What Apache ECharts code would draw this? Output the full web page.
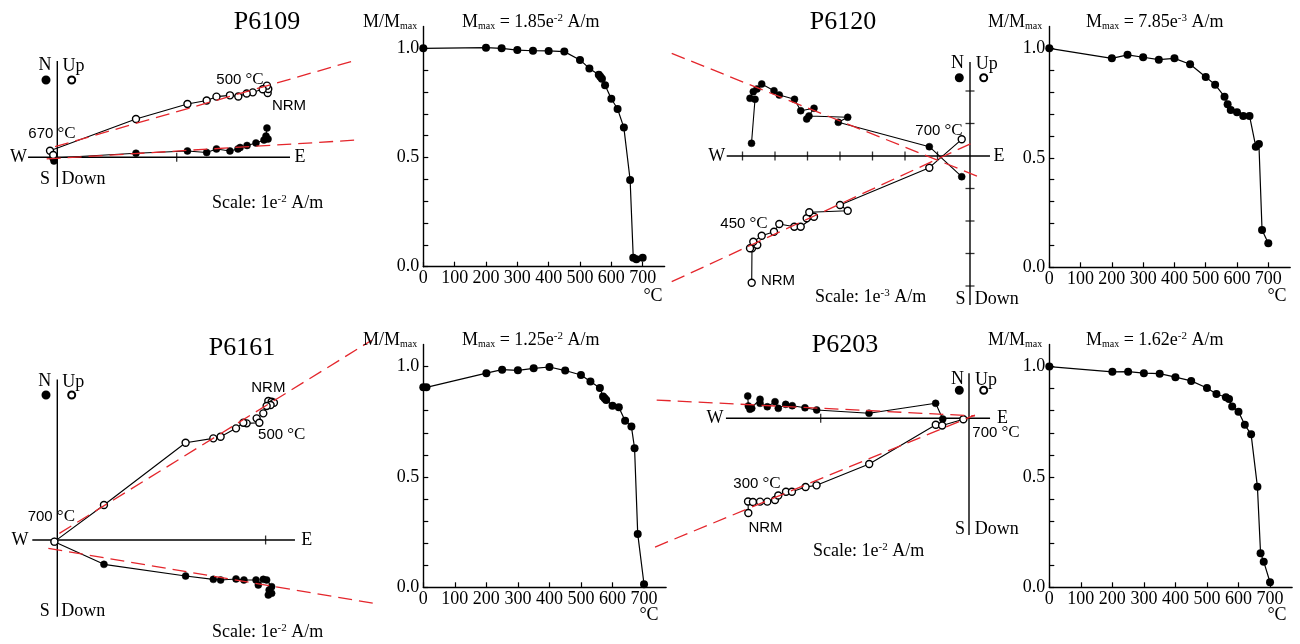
<!DOCTYPE html>
<html><head><meta charset="utf-8">
<script src="https://cdn.jsdelivr.net/npm/echarts@6/dist/echarts.min.js"></script>
<style>html,body{margin:0;padding:0;background:#fff}#c{width:1300px;height:644px}</style>
</head><body><div id="c"></div>
<script>
// ===== Thermal demagnetization curves: temperature (°C) and normalized intensity M/Mmax
const d6109Temp = [0,200,250,300,350,400,450,500,530,560,565,570,580,600,620,640,660,670,680,700];
const d6109M    = [1.0,1.003,1.0,0.992,0.989,0.988,0.985,0.947,0.908,0.879,0.870,0.861,0.831,0.769,0.722,0.637,0.397,0.041,0.034,0.041];
const d6120Temp = [0,200,250,300,350,400,450,500,530,560,570,580,600,620,640,660,670,680,700];
const d6120M    = [1.0,0.954,0.970,0.959,0.948,0.954,0.927,0.869,0.834,0.779,0.744,0.718,0.708,0.691,0.691,0.551,0.563,0.170,0.110];
const d6161Temp = [0,10,200,250,300,350,400,450,500,530,560,570,575,580,600,620,640,660,670,680,700];
const d6161M    = [0.906,0.906,0.970,0.986,0.983,0.992,0.998,0.982,0.962,0.932,0.903,0.864,0.856,0.849,0.822,0.816,0.755,0.728,0.630,0.242,0.014];
const d6203Temp = [0,200,250,300,350,400,450,500,530,560,570,580,600,620,640,660,670,680,700];
const d6203M    = [1.0,0.976,0.977,0.970,0.968,0.952,0.935,0.903,0.876,0.861,0.853,0.819,0.795,0.736,0.693,0.456,0.154,0.116,0.023];

// ===== Zijderveld diagrams, in units of the scale bar. Horizontal projection [E, N] (filled), vertical projection [E, Up] (open)
const z6109Horiz = [[1.756,0.245],[1.748,0.178],[1.765,0.153],[1.731,0.145],[1.664,0.120],[1.589,0.099],[1.531,0.082],[1.513,0.070],[1.446,0.053],[1.333,0.070],[1.251,0.040],[1.090,0.053],[0.659,0.034],[-0.036,-0.006],[-0.028,-0.031]];
const z6109Vert  = [[1.762,0.539],[1.767,0.572],[1.756,0.600],[1.720,0.570],[1.637,0.544],[1.586,0.534],[1.516,0.509],[1.446,0.519],[1.333,0.508],[1.251,0.476],[1.090,0.446],[0.659,0.321],[-0.061,0.055],[-0.034,0.019]];
const z6109FitH  = [[-0.089,-0.014],[2.518,0.145]];
const z6109FitV  = [[-0.019,0.089],[2.508,0.815]];
const z6109AxisE = [-0.245,1.949];
const z6109AxisN = [-0.249,0.807];
const z6109TicksE = [1];
const z6109TicksN = [];

const z6120Horiz = [[-6.723,0.391],[-6.615,1.745],[-6.769,1.775],[-6.668,1.978],[-6.554,2.062],[-6.409,2.215],[-6.031,2.009],[-5.868,1.877],[-5.400,1.745],[-5.209,1.394],[-4.800,1.468],[-5.025,1.138],[-4.954,1.231],[-3.763,1.191],[-4.052,1.037],[-1.252,0.286],[-0.255,-0.637]];
const z6120Vert  = [[-6.717,-3.898],[-6.708,-2.840],[-6.769,-2.840],[-6.545,-2.738],[-6.668,-2.637],[-6.409,-2.452],[-6.031,-2.329],[-5.868,-2.092],[-5.406,-2.175],[-5.209,-2.175],[-4.800,-1.868],[-5.025,-1.917],[-4.945,-1.732],[-3.763,-1.683],[-4.000,-1.508],[-1.252,-0.360],[-0.255,0.514]];
const z6120FitH  = [[-9.178,3.160],[0.308,-0.655]];
const z6120FitV  = [[-9.178,-3.868],[0.154,0.440]];
const z6120AxisE = [-7.486,0.615];
const z6120AxisN = [-4.585,2.892];
const z6120TicksE = [-7,-6,-5,-4,-3,-2,-1];
const z6120TicksN = [2,1,-1,-2,-3,-4];

const z6161Horiz = [[1.013,-0.264],[1.029,-0.256],[1.017,-0.240],[1.029,-0.224],[1.005,-0.192],[0.989,-0.189],[0.965,-0.216],[0.954,-0.192],[0.896,-0.192],[0.858,-0.187],[0.784,-0.192],[0.749,-0.189],[0.616,-0.173],[0.224,-0.117],[-0.014,-0.008]];
const z6161Vert  = [[1.013,0.667],[1.029,0.664],[1.040,0.659],[1.024,0.648],[1.005,0.643],[0.989,0.608],[0.957,0.584],[0.970,0.563],[0.909,0.560],[0.893,0.563],[0.858,0.536],[0.784,0.496],[0.749,0.488],[0.616,0.467],[0.224,0.168],[-0.014,-0.008]];
const z6161FitH  = [[-0.043,-0.040],[1.517,-0.304]];
const z6161FitV  = [[0.010,0.032],[1.511,0.960]];
const z6161AxisE = [-0.120,1.141];
const z6161AxisN = [-0.368,0.771];
const z6161TicksE = [1];
const z6161TicksN = [];

const z6203Horiz = [[-1.492,0.150],[-1.488,0.083],[-1.477,0.061],[-1.465,0.067],[-1.409,0.128],[-1.409,0.101],[-1.360,0.078],[-1.308,0.112],[-1.286,0.067],[-1.236,0.094],[-1.192,0.085],[-1.106,0.071],[-1.027,0.056],[-0.674,0.034],[-0.225,0.101],[-0.177,-0.005]];
const z6203Vert  = [[-1.488,-0.639],[-1.490,-0.561],[-1.457,-0.564],[-1.409,-0.562],[-1.360,-0.562],[-1.308,-0.551],[-1.286,-0.521],[-1.234,-0.495],[-1.194,-0.495],[-1.102,-0.463],[-1.028,-0.452],[-0.673,-0.308],[-0.224,-0.043],[-0.181,-0.049],[-0.038,-0.006]];
const z6203FitH  = [[-2.106,0.123],[0.040,0.016]];
const z6203FitV  = [[-2.117,-0.868],[0.040,0.022]];
const z6203AxisE = [-1.639,0.142];
const z6203AxisN = [-0.787,0.303];
const z6203TicksE = [-1];
const z6203TicksN = [];

// ===== Tick values of the demagnetization axes
const demagXTicks = [0,100,200,300,400,500,600,700];
const demagYTicks = [0,0.1,0.2,0.3,0.4,0.5,0.6,0.7,0.8,0.9,1.0];
const demagYLabels = [0,0.5,1.0];

// ===== Text
const sampleNames = ['P6109','P6120','P6161','P6203'];
const mmaxTexts = [['1.85','-2'],['7.85','-3'],['1.25','-2'],['1.62','-2']];
const scaleTexts = ['-2','-3','-2','-2'];

const SERIF = '"Liberation Serif","Times New Roman",serif';
const SANS = '"Liberation Sans",Arial,sans-serif';
const RED = '#e4262c';

// ---------------- layout: origin pixel, pixels per scale unit, plotting box ----------------
const zPanels = [
  {o:[57.3,157.3], u:119.4, box:{left:0, top:40, width:380, height:170},
   horiz:z6109Horiz, vert:z6109Vert, fitH:z6109FitH, fitV:z6109FitV, aE:z6109AxisE, aN:z6109AxisN, tE:z6109TicksE, tN:z6109TicksN},
  {o:[970,156], u:32.5, box:{left:660, top:40, width:360, height:280},
   horiz:z6120Horiz, vert:z6120Vert, fitH:z6120FitH, fitV:z6120FitV, aE:z6120AxisE, aN:z6120AxisN, tE:z6120TicksE, tN:z6120TicksN},
  {o:[57.3,540], u:208.3, box:{left:0, top:330, width:380, height:300},
   horiz:z6161Horiz, vert:z6161Vert, fitH:z6161FitH, fitV:z6161FitV, aE:z6161AxisE, aN:z6161AxisN, tE:z6161TicksE, tN:z6161TicksN},
  {o:[969,418.3], u:148.3, box:{left:650, top:360, width:360, height:200},
   horiz:z6203Horiz, vert:z6203Vert, fitH:z6203FitH, fitV:z6203FitV, aE:z6203AxisE, aN:z6203AxisN, tE:z6203TicksE, tN:z6203TicksN}
];
const dPanels = [
  {box:{left:423.3, top:26.5, width:241.3, height:240.2}, temp:d6109Temp, m:d6109M},
  {box:{left:1049.3, top:26.4, width:240.9, height:240.9}, temp:d6120Temp, m:d6120M},
  {box:{left:423.3, top:344.5, width:242.8, height:242.8}, temp:d6161Temp, m:d6161M},
  {box:{left:1049.3, top:344.5, width:242.8, height:242.8}, temp:d6203Temp, m:d6203M}
];

const grid = [], xAxis = [], yAxis = [], series = [], legend = [], graphic = [];
const axisLine = {color:'#000', width:1.4};

zPanels.forEach((p, i) => {
  const gi = grid.length;
  const b = p.box;
  grid.push(Object.assign({containLabel:false, outerBoundsMode:'none'}, b));
  const xi = xAxis.length, yi = yAxis.length;
  xAxis.push({gridIndex:gi, type:'value', show:false,
    min:(b.left - p.o[0]) / p.u, max:(b.left + b.width - p.o[0]) / p.u});
  yAxis.push({gridIndex:gi, type:'value', show:false,
    min:(p.o[1] - b.top - b.height) / p.u, max:(p.o[1] - b.top) / p.u});
  const nm = sampleNames[i];
  const common = {xAxisIndex:xi, yAxisIndex:yi, silent:true, clip:false, animation:false};
  // cross axes
  series.push(Object.assign({type:'line', data:[[p.aE[0],0],[p.aE[1],0]], symbol:'none', z:1,
    lineStyle:{color:'#000', width:1.4}}, common));
  series.push(Object.assign({type:'line', data:[[0,p.aN[0]],[0,p.aN[1]]], symbol:'none', z:1,
    lineStyle:{color:'#000', width:1.4}}, common));
  series.push(Object.assign({type:'scatter', data:p.tE.map(t => [t,0]), symbol:'rect', symbolSize:[1.3,9], z:1,
    itemStyle:{color:'#000'}}, common));
  series.push(Object.assign({type:'scatter', data:p.tN.map(t => [0,t]), symbol:'rect', symbolSize:[9,1.3], z:1,
    itemStyle:{color:'#000'}}, common));
  // fitted directions
  [p.fitH, p.fitV].forEach(f => series.push(Object.assign({
    type:'line', data:f, symbol:'none', z:5,
    lineStyle:{color:RED, width:1.3, type:[14,7]}
  }, common)));
  series.push(Object.assign({
    name:nm+' horizontal', type:'line', data:p.horiz, symbol:'circle', symbolSize:7, z:3,
    color:'#000', itemStyle:{color:'#000', borderColor:'#000', borderWidth:0.5},
    lineStyle:{color:'#000', width:1.1}
  }, common));
  series.push(Object.assign({
    name:nm+' vertical', type:'line', data:p.vert, symbol:'circle', symbolSize:7, z:3,
    color:'#000', itemStyle:{color:'#fff', borderColor:'#000', borderWidth:1.4},
    lineStyle:{color:'#000', width:1.1}
  }, common));
});

dPanels.forEach((p, i) => {
  const gi = grid.length;
  grid.push(Object.assign({containLabel:false, outerBoundsMode:'none'}, p.box));
  const xi = xAxis.length, yi = yAxis.length;
  xAxis.push({
    gridIndex:gi, type:'value', min:0, max:770,
    axisLine:{show:true, onZero:false, lineStyle:axisLine},
    axisTick:{show:true, customValues:demagXTicks, inside:true, length:5, lineStyle:{color:'#000', width:1.2}},
    axisLabel:{show:true, customValues:demagXTicks, color:'#000', fontFamily:SERIF, fontSize:18, margin:3},
    splitLine:{show:false}
  });
  yAxis.push({
    gridIndex:gi, type:'value', min:0, max:1.1,
    axisLine:{show:true, onZero:false, lineStyle:axisLine},
    axisTick:{show:true, customValues:demagYTicks, inside:true, length:5, lineStyle:{color:'#000', width:1.2}},
    axisLabel:{show:true, customValues:demagYLabels, color:'#000', fontFamily:SERIF, fontSize:18, margin:4,
      formatter:v => Number(v).toFixed(1)},
    splitLine:{show:false}
  });
  series.push({
    type:'line', xAxisIndex:xi, yAxisIndex:yi, silent:true, animation:false, clip:false,
    data:p.temp.map((t, k) => [t, p.m[k]]),
    symbol:'circle', symbolSize:8, color:'#000',
    itemStyle:{color:'#000'}, lineStyle:{color:'#000', width:1.2}
  });
});

// ---------- text helpers ----------
function txt(x, y, text, o) {
  o = o || {};
  const align = o.align || 'center';
  graphic.push({type:'text', x, y, silent:true, z:10, style:{
    text, fill:'#000',
    fontFamily:o.family || SERIF, fontSize:o.size || 18,
    align, textAlign:align, verticalAlign:'middle', textVerticalAlign:'middle',
    rich:o.rich
  }});
}
const richBase = {
  t:{fontFamily:SERIF, fontSize:18, fill:'#000', color:'#000', verticalAlign:'middle'},
  sub:{fontFamily:SERIF, fontSize:10, fill:'#000', color:'#000', verticalAlign:'bottom'},
  sup:{fontFamily:SERIF, fontSize:11, fill:'#000', color:'#000', verticalAlign:'top'},
  n:{fontFamily:SANS, fontSize:15, fill:'#000', color:'#000', verticalAlign:'middle'},
  c:{fontFamily:SERIF, fontSize:17, fill:'#000', color:'#000', verticalAlign:'middle'}
};
function tempLbl(x, y, deg) { txt(x, y, '{n|' + deg + ' }{c|°C}', {rich:richBase}); }

const zText = [
  {title:[267,22], N:[45,65], Up:[73.5,66], S:[45,179.5], Down:[83.5,179.5], W:[18.5,157.5], E:[300,157.5],
   temps:[[52,133.5,'670'],[240,80,'500']], nrm:[289,105.5], scale:[212,203], dots:[[45,79],[70.7,79]]},
  {title:[843,22], N:[957.5,63], Up:[986.7,64], S:[960.5,299], Down:[996.7,299], W:[716.7,156], E:[999,156],
   temps:[[939,131,'700'],[744,224,'450']], nrm:[778,281], scale:[815,297], dots:[[958.3,76.7],[982.7,76.7]]},
  {title:[242,348], N:[44.7,381], Up:[73.3,382], S:[44.7,611], Down:[83.3,611], W:[20,540], E:[306.7,540],
   temps:[[51.3,517,'700'],[281.7,434.5,'500']], nrm:[268.3,387.5], scale:[212,632], dots:[[45,394],[70.7,394]]},
  {title:[845,345], N:[957.5,379], Up:[986,380], S:[960,529], Down:[996.7,529], W:[715,418.5], E:[1002.5,418.5],
   temps:[[996,433,'700'],[757,484,'300']], nrm:[765.5,528], scale:[813,551], dots:[[958.3,389.3],[982.7,389.3]]}
];
zText.forEach((z, i) => {
  txt(z.title[0], z.title[1], sampleNames[i], {size:26});
  ['N','Up','S','Down','W','E'].forEach(k => txt(z[k][0], z[k][1], k));
  z.temps.forEach(t => tempLbl(t[0], t[1], t[2]));
  txt(z.nrm[0], z.nrm[1], 'NRM', {family:SANS, size:15});
  txt(z.scale[0], z.scale[1], '{t|Scale: 1e}{sup|' + scaleTexts[i] + '}{t| A/m}', {align:'left', rich:richBase});
  const nm = sampleNames[i];
  [[nm+' horizontal', z.dots[0]], [nm+' vertical', z.dots[1]]].forEach(([sname, d]) => legend.push({
    data:[sname], left:d[0]-3.5, top:d[1]-3.5, padding:0, itemWidth:7, itemHeight:7, itemGap:0,
    icon:'circle', selectedMode:false, formatter:() => '', textStyle:{fontSize:1}
  }));
});

const dText = [
  {mm:[363,22], mx:[462,22], deg:[653,296]},
  {mm:[988,22], mx:[1086,22], deg:[1277,296]},
  {mm:[363,340], mx:[462,340], deg:[649,615]},
  {mm:[988,340], mx:[1086,340], deg:[1277,615]}
];
dText.forEach((d, i) => {
  txt(d.mm[0], d.mm[1], '{t|M/M}{sub|max}', {align:'left', rich:richBase});
  txt(d.mx[0], d.mx[1], '{t|M}{sub|max}{t| = ' + mmaxTexts[i][0] + 'e}{sup|' + mmaxTexts[i][1] + '}{t| A/m}', {align:'left', rich:richBase});
  txt(d.deg[0], d.deg[1], '°C');
});

const chart = echarts.init(document.getElementById('c'), null, {renderer:'canvas', width:1300, height:644});
chart.setOption({
  animation:false, backgroundColor:'#fff',
  grid, xAxis, yAxis, series, legend, graphic
});
</script></body></html>
